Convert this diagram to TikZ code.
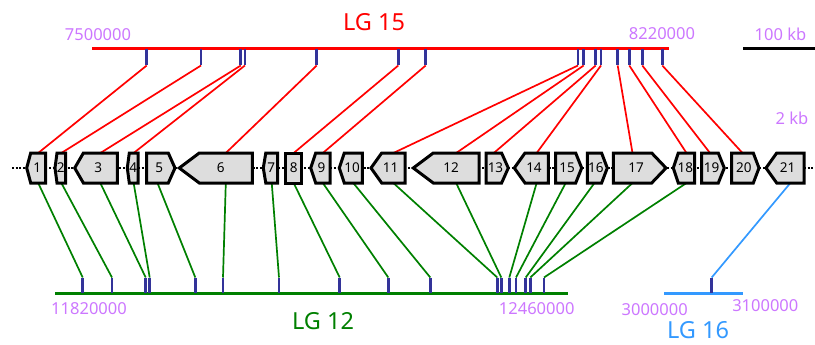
\documentclass[tikz,border=0pt]{standalone}
\usepackage{fontspec}
\setmainfont{Noto Sans}
\definecolor{tickc}{HTML}{333399}
\definecolor{violetlab}{HTML}{CC77FF}
\definecolor{lgred}{HTML}{FF0000}
\definecolor{lggreen}{HTML}{008000}
\definecolor{lgblue}{HTML}{3399FF}
\definecolor{genefill}{HTML}{DDDDDD}
\pgfdeclarelayer{bg}
\pgfsetlayers{bg,main}
\tikzset{
  genebox/.style={draw=black,fill=genefill,line width=3pt,line join=miter},
  genelabel/.style={inner sep=0pt,font=\fontsize{13.5}{15}\selectfont},
  tickmark/.style={draw=tickc,line width=2.8pt},
  axisline/.style={line width=3pt},
  conn/.style={line width=1.7pt},
  poslab/.style={inner sep=0pt,text=violetlab,font=\fontsize{16.5}{19}\selectfont},
  lglab/.style={inner sep=0pt,font=\fontsize{23.5}{27}\selectfont},
}
% #1 name, #2 x1, #3 x2, #4 tip depth, #5 label
\newcommand{\geneleft}[5]{%
  \draw[genebox] ({#2+#4},153) -- (#3,153) -- (#3,183) -- ({#2+#4},183) -- (#2,168) -- cycle;
  \node[genelabel] (#1) at ({(#2+#3)/2+#4/4},168) {#5};
  \coordinate (#1t) at ({(#2+#4+#3)/2},153);
  \coordinate (#1b) at ({(#2+#4+#3)/2},183);
}
\newcommand{\generight}[5]{%
  \draw[genebox] (#2,153) -- ({#3-#4},153) -- (#3,168) -- ({#3-#4},183) -- (#2,183) -- cycle;
  \node[genelabel] (#1) at ({(#2+#3)/2-#4/4},168) {#5};
  \coordinate (#1t) at ({(#2+#3-#4)/2},153);
  \coordinate (#1b) at ({(#2+#3-#4)/2},183);
}
\begin{document}
\begin{tikzpicture}[x=1pt,y=-1pt]
\useasboundingbox (0,0) rectangle (815,345);

% ---- axes ----
\coordinate (r0) at (92,49);  \coordinate (r1) at (669,49);
\coordinate (g0) at (55,293); \coordinate (g1) at (568,293);
\coordinate (b0) at (664,293); \coordinate (b1) at (743,293);
\coordinate (s0) at (743,49); \coordinate (s1) at (815,49);
\draw[axisline,lgred] (r0) -- (r1);
\draw[axisline,lggreen] (g0) -- (g1);
\draw[axisline,lgblue] (b0) -- (b1);
\draw[axisline,black] (s0) -- (s1);

% ---- labels ----
\node[lglab,text=lgred] (lg15) at (374,22) {LG 15};
\node[lglab,text=lggreen] (lg12) at (323,321) {LG 12};
\node[lglab,text=lgblue] (lg16) at (698,330) {LG 16};
\node[poslab] (p1) at (98,35) {7500000};
\node[poslab] (p2) at (662,34) {8220000};
\node[poslab] (p3) at (780.5,34) {100 kb};
\node[poslab] (p4) at (792,118) {2 kb};
\node[poslab] (p5) at (89,309) {11820000};
\node[poslab] (p6) at (536.7,309) {12460000};
\node[poslab] (p7) at (654.7,309.5) {3000000};
\node[poslab] (p8) at (765.3,306) {3100000};

% ---- top ticks (LG 15) ----
\foreach \n/\x in {1/146.7,2/201,3/240.8,4/244.9,5/316.7,6/398.3,7/425.7,8/578,9/583.7,10/595.7,11/601,12/617.7,13/629.3,14/642.3,15/662.3}{
  \coordinate (ta\n) at (\x,49);
  \coordinate (tb\n) at (\x,65.5);
  \draw[tickmark] (ta\n) -- (tb\n);
}
% ---- bottom ticks (LG 12) ----
\foreach \n/\x in {1/82.7,2/112,3/145.7,4/149.7,5/195.3,6/223,7/279,8/339.7,9/388.3,10/430.3,11/497.3,12/501.3,13/509.3,14/516,15/525.7,16/530.3,17/544}{
  \coordinate (ba\n) at (\x,277.5);
  \coordinate (bb\n) at (\x,293);
  \draw[tickmark] (ba\n) -- (bb\n);
}
% ---- LG 16 tick ----
\coordinate (ca1) at (711.7,277.5);
\coordinate (cb1) at (711.7,293);
\draw[tickmark] (ca1) -- (cb1);

% ---- dotted backbone ----
\coordinate (d0) at (12,168); \coordinate (d1) at (815,168);
\draw[line width=2.6pt,dash pattern=on 2pt off 1.7pt] (d0) -- (d1);

% ---- genes ----
\geneleft{n1}{26.7}{45.7}{4}{1}
\geneleft{n2}{55}{65.7}{2}{2}
\geneleft{n3}{74.7}{117.3}{8.7}{3}
\geneleft{n4}{127.3}{138}{2}{4}
\generight{n5}{146.7}{175}{6.7}{5}
\geneleft{n6}{179.3}{252.3}{20}{6}
\geneleft{n7}{263.3}{277.7}{2.5}{7}
\generight{n8}{285.7}{301.7}{0}{8}
\geneleft{n9}{310.7}{330}{5}{9}
\geneleft{n10}{339.3}{362.3}{5}{10}
\geneleft{n11}{371}{405}{10.7}{11}
\geneleft{n12}{413.3}{479}{20}{12}
\generight{n13}{486}{508.3}{6.7}{13}
\geneleft{n14}{514.3}{548.3}{10.7}{14}
\generight{n15}{555.7}{581.7}{6}{15}
\generight{n16}{587.3}{607.3}{5.7}{16}
\generight{n17}{613.3}{666}{14.3}{17}
\geneleft{n18}{673.3}{694.7}{5}{18}
\generight{n19}{701.7}{724.3}{6}{19}
\generight{n20}{731.7}{759}{5.7}{20}
\geneleft{n21}{766}{804}{10.7}{21}

% ---- connectors (behind genes) ----
\begin{pgfonlayer}{bg}
\foreach \t/\g in {1/n1,2/n2,3/n3,4/n4,5/n6,6/n8,7/n9,8/n11,9/n12,10/n13,11/n14,12/n17,13/n18,14/n19,15/n20}{
  \draw[conn,lgred] (tb\t) -- (\g t);
}
\foreach \t/\g in {1/n1,2/n2,3/n3,4/n4,5/n5,6/n6,7/n7,8/n8,9/n9,10/n10,11/n11,12/n12,13/n14,14/n15,15/n16,16/n17,17/n18}{
  \draw[conn,lggreen] (\g b) -- (ba\t);
}
\draw[conn,lgblue] (n21b) -- (ca1);
\end{pgfonlayer}
\end{tikzpicture}
\end{document}
